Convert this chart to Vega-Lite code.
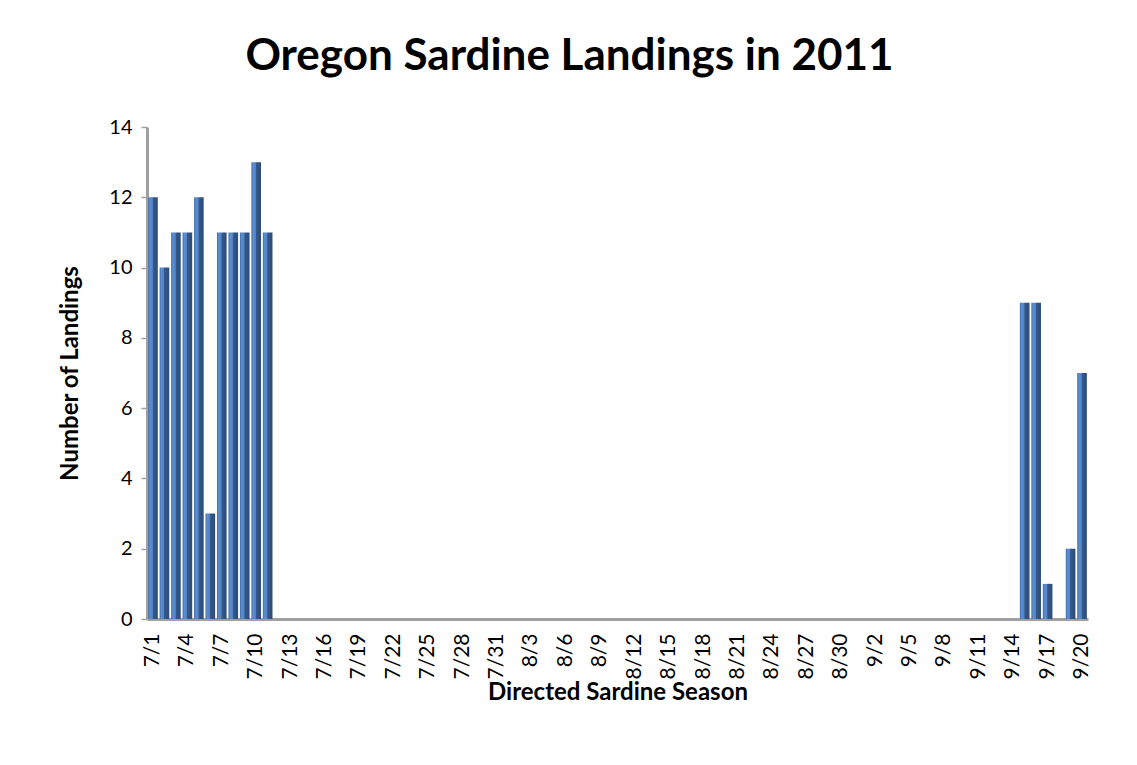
{
  "$schema": "https://vega.github.io/schema/vega-lite/v6.json",
  "autosize": "none",
  "width": 941,
  "height": 492,
  "padding": {"left": 147, "top": 127, "right": 49, "bottom": 146},
  "background": "white",
  "title": {
    "text": "Oregon Sardine Landings in 2011",
    "font": "Lato",
    "fontSize": 44,
    "fontWeight": "bold",
    "color": "#000000",
    "anchor": "middle",
    "frame": "group",
    "dx": -48,
    "offset": 38
  },
  "data": {
    "values": [
      {"day": "7/1", "landings": 12}, {"day": "7/2", "landings": 10}, {"day": "7/3", "landings": 11},
      {"day": "7/4", "landings": 11}, {"day": "7/5", "landings": 12}, {"day": "7/6", "landings": 3},
      {"day": "7/7", "landings": 11}, {"day": "7/8", "landings": 11}, {"day": "7/9", "landings": 11},
      {"day": "7/10", "landings": 13}, {"day": "7/11", "landings": 11}, {"day": "7/12", "landings": 0},
      {"day": "7/13", "landings": 0}, {"day": "7/14", "landings": 0}, {"day": "7/15", "landings": 0},
      {"day": "7/16", "landings": 0}, {"day": "7/17", "landings": 0}, {"day": "7/18", "landings": 0},
      {"day": "7/19", "landings": 0}, {"day": "7/20", "landings": 0}, {"day": "7/21", "landings": 0},
      {"day": "7/22", "landings": 0}, {"day": "7/23", "landings": 0}, {"day": "7/24", "landings": 0},
      {"day": "7/25", "landings": 0}, {"day": "7/26", "landings": 0}, {"day": "7/27", "landings": 0},
      {"day": "7/28", "landings": 0}, {"day": "7/29", "landings": 0}, {"day": "7/30", "landings": 0},
      {"day": "7/31", "landings": 0},
      {"day": "8/1", "landings": 0}, {"day": "8/2", "landings": 0}, {"day": "8/3", "landings": 0},
      {"day": "8/4", "landings": 0}, {"day": "8/5", "landings": 0}, {"day": "8/6", "landings": 0},
      {"day": "8/7", "landings": 0}, {"day": "8/8", "landings": 0}, {"day": "8/9", "landings": 0},
      {"day": "8/10", "landings": 0}, {"day": "8/11", "landings": 0}, {"day": "8/12", "landings": 0},
      {"day": "8/13", "landings": 0}, {"day": "8/14", "landings": 0}, {"day": "8/15", "landings": 0},
      {"day": "8/16", "landings": 0}, {"day": "8/17", "landings": 0}, {"day": "8/18", "landings": 0},
      {"day": "8/19", "landings": 0}, {"day": "8/20", "landings": 0}, {"day": "8/21", "landings": 0},
      {"day": "8/22", "landings": 0}, {"day": "8/23", "landings": 0}, {"day": "8/24", "landings": 0},
      {"day": "8/25", "landings": 0}, {"day": "8/26", "landings": 0}, {"day": "8/27", "landings": 0},
      {"day": "8/28", "landings": 0}, {"day": "8/29", "landings": 0}, {"day": "8/30", "landings": 0},
      {"day": "8/31", "landings": 0},
      {"day": "9/1", "landings": 0}, {"day": "9/2", "landings": 0}, {"day": "9/3", "landings": 0},
      {"day": "9/4", "landings": 0}, {"day": "9/5", "landings": 0}, {"day": "9/6", "landings": 0},
      {"day": "9/7", "landings": 0}, {"day": "9/8", "landings": 0}, {"day": "9/9", "landings": 0},
      {"day": "9/10", "landings": 0}, {"day": "9/11", "landings": 0}, {"day": "9/12", "landings": 0},
      {"day": "9/13", "landings": 0}, {"day": "9/14", "landings": 0}, {"day": "9/15", "landings": 9},
      {"day": "9/16", "landings": 9}, {"day": "9/17", "landings": 1}, {"day": "9/18", "landings": 0},
      {"day": "9/19", "landings": 2}, {"day": "9/20", "landings": 7}
    ]
  },
  "mark": {
    "type": "bar",
    "color": {
      "gradient": "linear",
      "x1": 0, "y1": 0, "x2": 1, "y2": 0,
      "stops": [
        {"offset": 0, "color": "#426fae"},
        {"offset": 0.2, "color": "#5b8fd2"},
        {"offset": 0.45, "color": "#4f82c4"},
        {"offset": 0.5, "color": "#35598b"},
        {"offset": 1, "color": "#2d4c78"}
      ]
    }
  },
  "encoding": {
    "x": {
      "field": "day",
      "type": "ordinal",
      "sort": null,
      "scale": {"paddingInner": 0.16, "paddingOuter": 0.1},
      "axis": {
        "title": "Directed Sardine Season",
        "values": ["7/1", "7/4", "7/7", "7/10", "7/13", "7/16", "7/19", "7/22", "7/25", "7/28", "7/31",
                   "8/3", "8/6", "8/9", "8/12", "8/15", "8/18", "8/21", "8/24", "8/27", "8/30",
                   "9/2", "9/5", "9/8", "9/11", "9/14", "9/17", "9/20"],
        "labelAngle": -90,
        "labelFontSize": 21,
        "labelPadding": 14,
        "ticks": false,
        "domainColor": "#a0a0a0",
        "domainWidth": 3,
        "titlePadding": 1
      }
    },
    "y": {
      "field": "landings",
      "type": "quantitative",
      "scale": {"domain": [0, 14], "nice": false},
      "axis": {
        "title": "Number of Landings",
        "values": [0, 2, 4, 6, 8, 10, 12, 14],
        "grid": false,
        "labelFontSize": 20,
        "domainColor": "#a0a0a0",
        "domainWidth": 3,
        "tickColor": "#a0a0a0",
        "tickSize": 6,
        "tickWidth": 1.5,
        "labelPadding": 9,
        "titlePadding": 26
      }
    }
  },
  "config": {
    "view": {"stroke": null},
    "axis": {
      "labelFont": "Lato",
      "labelColor": "#000000",
      "titleFont": "Lato",
      "titleFontSize": 24,
      "titleFontWeight": "bold",
      "titleColor": "#000000"
    }
  }
}
